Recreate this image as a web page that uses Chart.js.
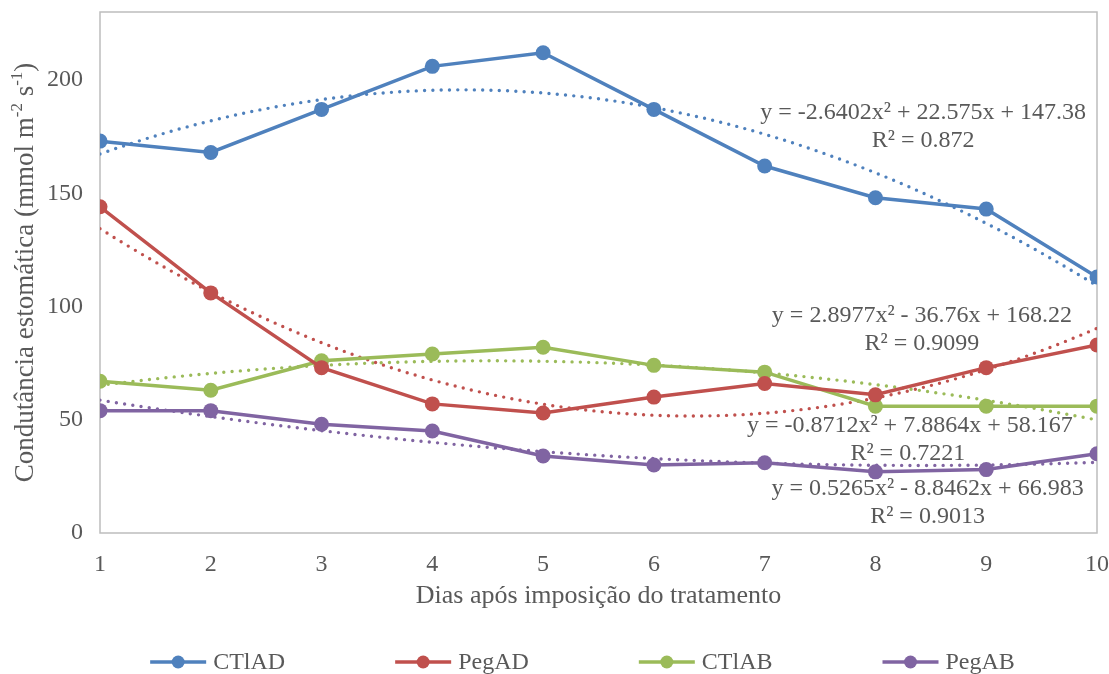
<!DOCTYPE html>
<html>
<head>
<meta charset="utf-8">
<script src="https://cdn.jsdelivr.net/npm/chart.js@4.4.1/dist/chart.umd.min.js"></script>
<style>
  html, body { margin: 0; padding: 0; background: #ffffff; }
  #wrap { width: 1109px; height: 674px; }
</style>
</head>
<body>
<div id="wrap"><canvas id="chart" width="1109" height="674"></canvas></div>
<script>
// Dias após imposição do tratamento
const days = [1, 2, 3, 4, 5, 6, 7, 8, 9, 10];

// Condutância estomática (mmol m-2 s-1) por tratamento
const seriesNames = ['CTlAD', 'PegAD', 'CTlAB', 'PegAB'];
const ctlad = [173, 168, 187, 206, 212, 187, 162, 148, 143, 113];
const pegad = [144, 106, 73, 57, 53, 60, 66, 61, 73, 83];
const ctlab = [67, 63, 76, 79, 82, 74, 71, 56, 56, 56];
const pegab = [54, 54, 48, 45, 34, 30, 31, 27, 28, 35];

// Polynomial (2nd order) trend coefficients [a, b, c] and R²
const ctladFit = [-2.6402, 22.575, 147.38];
const pegadFit = [2.8977, -36.76, 168.22];
const ctlabFit = [-0.8712, 7.8864, 58.167];
const pegabFit = [0.5265, -8.8462, 66.983];
const fitR2 = ['0.872', '0.9099', '0.7221', '0.9013'];

const yTicks = [0, 50, 100, 150, 200];
const xTicks = [1, 2, 3, 4, 5, 6, 7, 8, 9, 10];

const colors = ['#4F81BD', '#C0504D', '#9BBB59', '#8064A2'];
const TEXT = '#595959';
const FONT = '"Liberation Serif", "Times New Roman", serif';

const values = [ctlad, pegad, ctlab, pegab];
const fits = [ctladFit, pegadFit, ctlabFit, pegabFit];

function toPoints(arr) {
  return days.map((d, i) => ({ x: d, y: arr[i] }));
}

// sample the trend polynomial along the day axis
function trendPoints(coef) {
  const pts = [];
  const lo = days[0], hi = days[days.length - 1];
  const n = 180;
  for (let k = 0; k <= n; k++) {
    const x = lo + (hi - lo) * k / n;
    pts.push({ x: x, y: coef[0] * x * x + coef[1] * x + coef[2] });
  }
  return pts;
}

function fmtTerm(v, suffix, first) {
  if (first) return (v < 0 ? '-' : '') + Math.abs(v) + suffix;
  return (v < 0 ? ' - ' : ' + ') + Math.abs(v) + suffix;
}
function equationText(coef) {
  return 'y = ' + fmtTerm(coef[0], 'x²', true) + fmtTerm(coef[1], 'x', false) + fmtTerm(coef[2], '', false);
}

const datasets = [];
values.forEach((arr, i) => {
  datasets.push({
    label: seriesNames[i],
    data: toPoints(arr),
    borderColor: colors[i],
    backgroundColor: colors[i],
    borderWidth: 3.5,
    pointRadius: 7.5,
    pointHoverRadius: 7.5,
    pointBackgroundColor: colors[i],
    pointBorderColor: colors[i],
    pointBorderWidth: 0,
    tension: 0,
    order: 1
  });
});
fits.forEach((coef, i) => {
  datasets.push({
    label: seriesNames[i] + ' (tendência)',
    data: trendPoints(coef),
    borderColor: colors[i],
    borderWidth: 3.4,
    borderDash: [0, 8.3],
    borderCapStyle: 'round',
    pointRadius: 0,
    tension: 0,
    order: 2,
    isTrend: true
  });
});

// gray frame around the plot area
const plotFrame = {
  id: 'plotFrame',
  beforeDatasetsDraw(chart) {
    const a = chart.chartArea, ctx = chart.ctx;
    ctx.save();
    ctx.strokeStyle = '#BDBDBD';
    ctx.lineWidth = 1.5;
    ctx.strokeRect(a.left, a.top, a.right - a.left, a.bottom - a.top);
    ctx.restore();
  }
};

// trend equations and R² next to the curves
const fitLabels = {
  id: 'fitLabels',
  afterDatasetsDraw(chart, args, opts) {
    const ctx = chart.ctx, xs = chart.scales.x, ys = chart.scales.y;
    ctx.save();
    ctx.font = '24px ' + FONT;
    ctx.fillStyle = TEXT;
    ctx.textAlign = 'center';
    ctx.textBaseline = 'middle';
    opts.anchors.forEach((p, i) => {
      const px = xs.getPixelForValue(p.x);
      const py = ys.getPixelForValue(p.y);
      ctx.fillText(equationText(fits[i]), px, py);
      ctx.fillText('R² = ' + fitR2[i], px + (p.dx || 0), py + opts.lineGap);
    });
    ctx.restore();
  }
};

// vertical axis title with superscript units
const yTitle = {
  id: 'yTitle',
  afterDraw(chart, args, opts) {
    const ctx = chart.ctx, a = chart.chartArea;
    const size = 27, sup = 17;
    const parts = [
      { t: 'Condutância estomática (mmol m', s: false },
      { t: '-2', s: true },
      { t: ' s', s: false },
      { t: '-1', s: true },
      { t: ')', s: false }
    ];
    ctx.save();
    ctx.fillStyle = TEXT;
    ctx.textBaseline = 'middle';
    ctx.textAlign = 'left';
    let total = 0;
    parts.forEach(p => {
      ctx.font = (p.s ? sup : size) + 'px ' + FONT;
      p.w = ctx.measureText(p.t).width;
      total += p.w;
    });
    ctx.translate(opts.x, (a.top + a.bottom) / 2);
    ctx.rotate(-Math.PI / 2);
    let cx = -total / 2;
    parts.forEach(p => {
      ctx.font = (p.s ? sup : size) + 'px ' + FONT;
      ctx.fillText(p.t, cx, p.s ? -8 : 0);
      cx += p.w;
    });
    ctx.restore();
  }
};

// series key below the axis title: line + marker + name
const seriesKey = {
  id: 'seriesKey',
  afterDraw(chart, args, opts) {
    const ctx = chart.ctx;
    ctx.save();
    ctx.font = '24px ' + FONT;
    ctx.textBaseline = 'middle';
    ctx.textAlign = 'left';
    const items = chart.data.datasets.filter(d => !d.isTrend);
    const sym = 56, gapText = 7, gapItem = 110;
    const widths = items.map(d => sym + gapText + ctx.measureText(d.label).width);
    const total = widths.reduce((s, w) => s + w, 0) + gapItem * (items.length - 1);
    let x = opts.centerX - total / 2;
    const y = opts.y;
    items.forEach((d, i) => {
      ctx.strokeStyle = d.borderColor;
      ctx.lineWidth = 3.5;
      ctx.beginPath();
      ctx.moveTo(x, y);
      ctx.lineTo(x + sym, y);
      ctx.stroke();
      ctx.fillStyle = d.borderColor;
      ctx.beginPath();
      ctx.arc(x + sym / 2, y, 6.5, 0, Math.PI * 2);
      ctx.fill();
      ctx.fillStyle = TEXT;
      ctx.fillText(d.label, x + sym + gapText, y + 1);
      x += widths[i] + gapItem;
    });
    ctx.restore();
  }
};

function noEdgePadding(scale) {
  scale.paddingTop = 0;
  scale.paddingBottom = 0;
  scale.paddingLeft = 0;
  scale.paddingRight = 0;
}

new Chart(document.getElementById('chart'), {
  type: 'line',
  data: { datasets: datasets },
  plugins: [plotFrame, fitLabels, yTitle, seriesKey],
  options: {
    responsive: false,
    animation: false,
    devicePixelRatio: 1,
    layout: { padding: { top: 12, right: 12, left: 0, bottom: 0 } },
    scales: {
      x: {
        type: 'linear',
        min: xTicks[0],
        max: xTicks[xTicks.length - 1],
        afterFit(scale) { scale.height = 141; noEdgePadding(scale); },
        afterBuildTicks(scale) { scale.ticks = xTicks.map(v => ({ value: v })); },
        grid: { display: false, drawTicks: false },
        border: { display: false },
        ticks: {
          padding: 17,
          color: TEXT,
          font: { family: FONT, size: 24 },
          callback: v => String(v)
        },
        title: {
          display: true,
          text: 'Dias após imposição do tratamento',
          color: TEXT,
          font: { family: FONT, size: 26 },
          padding: { top: 0, bottom: 62 }
        }
      },
      y: {
        min: 0,
        max: 230,
        afterFit(scale) { scale.width = 100; noEdgePadding(scale); },
        afterBuildTicks(scale) { scale.ticks = yTicks.map(v => ({ value: v })); },
        grid: { display: false, drawTicks: false },
        border: { display: false },
        ticks: {
          padding: 17,
          color: TEXT,
          font: { family: FONT, size: 24 },
          callback: v => String(v)
        }
      }
    },
    plugins: {
      legend: { display: false },
      tooltip: { enabled: false },
      fitLabels: {
        lineGap: 28,
        anchors: [
          { x: 8.43, y: 185.7 },
          { x: 8.42, y: 96.1 },
          { x: 8.31, y: 47.5, dx: -2 },
          { x: 8.47, y: 19.7 }
        ]
      },
      yTitle: { x: 26 },
      seriesKey: { centerX: 582.5, y: 662 }
    }
  }
});
</script>
</body>
</html>
